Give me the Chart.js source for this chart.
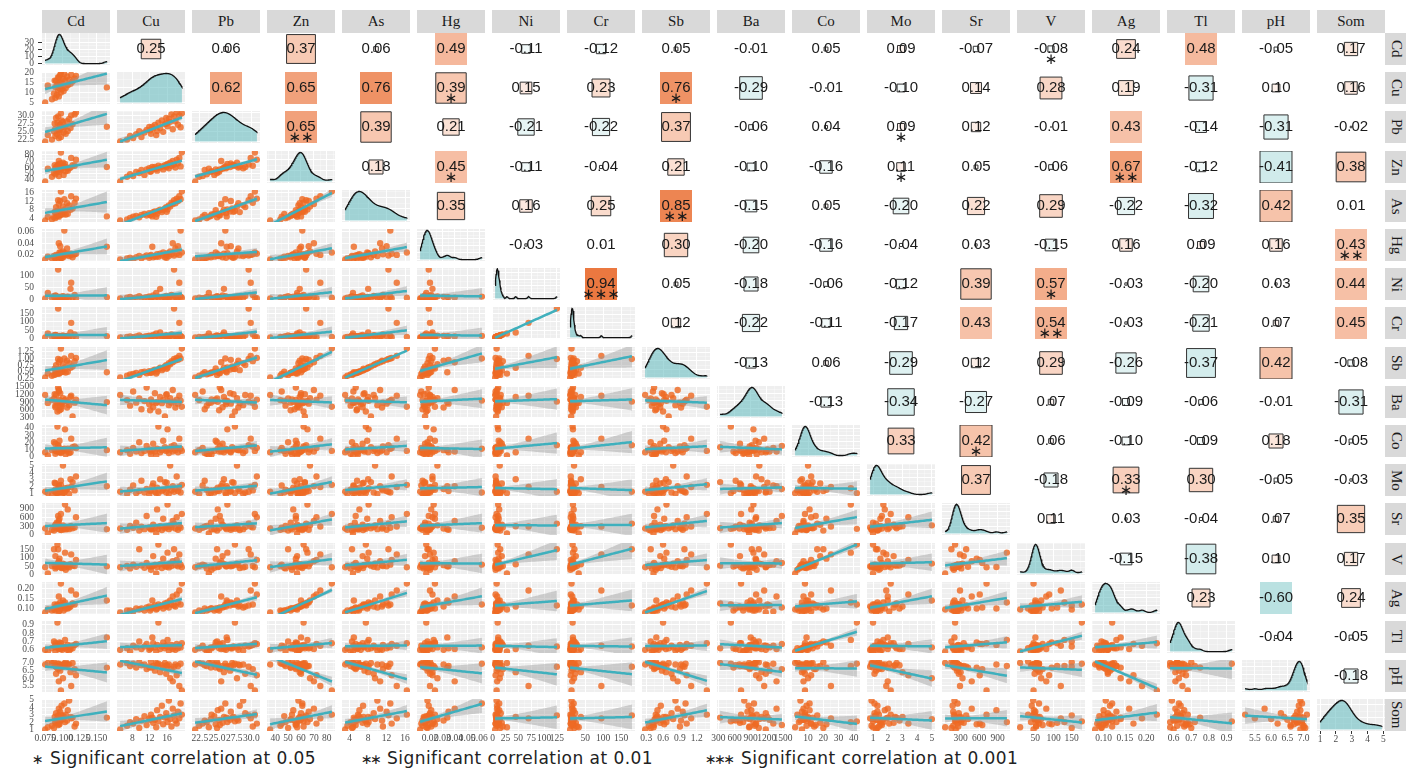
<!DOCTYPE html>
<html lang="en">
<head>
<meta charset="UTF-8">
<title>Correlation matrix of soil elements</title>
<script src="https://cdn.jsdelivr.net/npm/chart.js"></script>
<style>
  body { margin: 0; width: 1406px; height: 768px; overflow: hidden; position: relative; background: #fff; }
  canvas { position: absolute; }
  .strip { position: absolute; background: #d9d9d9; color: #1a1a1a; font: 15px "Liberation Serif", "Times New Roman", serif;
           display: flex; align-items: center; justify-content: center; }
  .strip.side { writing-mode: vertical-rl; }
  .legend { position: absolute; top: 748px; font: 17px "DejaVu Sans", sans-serif; color: #222; white-space: nowrap; line-height: 20px; }
  .legend.txt { letter-spacing: 0.45px; }
  .legend.st { font-size: 14px; letter-spacing: -2.5px; top: 749px; }
</style>
</head>
<body>
<div class="legend st" style="left:32px">∗</div>
<div class="legend txt" style="left:50px">Significant correlation at 0.05</div>
<div class="legend st" style="left:361px">∗∗</div>
<div class="legend txt" style="left:387px">Significant correlation at 0.01</div>
<div class="legend st" style="left:705px">∗∗∗</div>
<div class="legend txt" style="left:741px">Significant correlation at 0.001</div>

<script>
// variables, in panel order
const vars = ['Cd', 'Cu', 'Pb', 'Zn', 'As', 'Hg', 'Ni', 'Cr', 'Sb', 'Ba', 'Co', 'Mo', 'Sr', 'V', 'Ag', 'Tl', 'pH', 'Som'];

// sample values per variable (36 samples, estimated from the scatter panels)
const cd = [0.075, 0.085, 0.090, 0.095, 0.092, 0.088, 0.098, 0.102, 0.094, 0.100, 0.105, 0.090,
            0.097, 0.108, 0.093, 0.112, 0.099, 0.096, 0.115, 0.091, 0.104, 0.110, 0.101, 0.118,
            0.095, 0.094, 0.107, 0.120, 0.097, 0.113, 0.103, 0.098, 0.165, 0.079, 0.089, 0.096];
const cu = [5.2, 6.8, 7.5, 8.2, 8.9, 9.6, 10.1, 10.8, 11.3, 11.9, 12.3, 12.8,
            13.2, 13.7, 14.0, 14.4, 14.8, 15.1, 15.5, 15.8, 16.1, 16.4, 16.7, 17.0,
            17.3, 17.6, 17.9, 18.2, 18.5, 18.8, 19.1, 19.4, 12.6, 13.5, 15.9, 12.1];
const pb = [21.8, 22.4, 23.5, 22.9, 24.1, 25.0, 23.2, 24.6, 25.4, 26.3, 24.2, 25.8,
            26.9, 25.1, 27.6, 26.0, 28.3, 24.8, 27.2, 29.1, 26.5, 28.8, 27.9, 30.2,
            25.6, 29.6, 28.1, 30.8, 27.0, 29.9, 26.2, 30.5, 26.4, 23.8, 27.4, 25.3];
const zn = [36, 44, 48, 45, 52, 50, 55, 47, 56, 58, 53, 57,
            60, 54, 62, 59, 61, 56, 63, 60, 65, 58, 67, 62,
            70, 64, 59, 72, 66, 75, 61, 84, 60, 57, 63, 52];
const as = [3.0, 3.5, 4.2, 4.8, 5.1, 4.5, 5.6, 6.0, 5.3, 6.4, 5.8, 6.8,
            7.2, 6.1, 7.5, 8.0, 6.9, 7.8, 8.6, 9.2, 8.1, 10.0, 9.5, 11.2,
            10.6, 12.4, 11.0, 13.1, 12.0, 14.2, 12.8, 16.4, 4.9, 4.7, 7.0, 5.5];
const hg = [0.012, 0.014, 0.015, 0.013, 0.016, 0.018, 0.014, 0.017, 0.019, 0.015, 0.020, 0.016,
            0.018, 0.021, 0.017, 0.022, 0.019, 0.024, 0.016, 0.020, 0.023, 0.018, 0.026, 0.021,
            0.040, 0.019, 0.031, 0.022, 0.035, 0.020, 0.062, 0.024, 0.034, 0.017, 0.015, 0.018];
const ni = [5, 8, 12, 6, 10, 15, 7, 9, 11, 14, 6, 18,
            8, 13, 10, 45, 9, 12, 7, 16, 11, 8, 14, 20,
            9, 125, 12, 6, 10, 70, 13, 8, 11, 28, 7, 10];
const cr = [8, 12, 15, 10, 14, 20, 11, 13, 16, 19, 9, 24,
            12, 18, 15, 38, 13, 17, 11, 22, 16, 12, 19, 27,
            14, 180, 17, 10, 15, 95, 18, 12, 16, 32, 11, 15];
const sb = [0.28, 0.35, 0.40, 0.42, 0.45, 0.38, 0.48, 0.50, 0.44, 0.52, 0.47, 0.55,
            0.58, 0.50, 0.60, 0.65, 0.56, 0.62, 0.70, 0.75, 0.66, 0.82, 0.78, 0.90,
            0.86, 0.98, 0.92, 1.02, 0.95, 1.10, 1.00, 1.38, 0.48, 0.43, 0.61, 0.46];
const ba = [1180, 980, 760, 1320, 880, 1050, 620, 940, 1480, 820, 1010, 700,
            1250, 910, 530, 1100, 860, 990, 330, 1180, 950, 780, 1060, 880,
            1380, 920, 690, 1000, 840, 1150, 960, 720, 900, 870, 1210, 580];
const co = [6, 9, 4, 12, 7, 20, 5, 8, 15, 10, 3, 18,
            7, 11, 42, 6, 9, 22, 13, 8, 38, 5, 10, 14,
            7, 16, 9, 12, 6, 25, 11, 8, 9, 1.5, 10, 7];
const mo = [1.2, 0.9, 1.5, 2.1, 1.0, 1.3, 2.8, 1.1, 1.6, 0.8, 1.4, 2.4,
            1.2, 1.8, 1.0, 3.0, 1.3, 1.5, 2.6, 1.1, 1.7, 0.9, 5.0, 1.4,
            2.0, 1.2, 1.6, 3.4, 1.3, 1.9, 1.1, 2.2, 2.0, 1.0, 2.5, 1.3];
const sr = [220, 180, 310, 250, 420, 150, 280, 200, 650, 260, 190, 350,
            240, 880, 210, 300, 170, 560, 230, 270, 1050, 200, 330, 260,
            480, 390, 220, 610, 180, 290, 250, 720, 200, 48, 280, 230];
const v  = [45, 52, 38, 60, 48, 150, 55, 42, 70, 50, 30, 110,
            58, 46, 178, 62, 40, 95, 54, 48, 130, 44, 66, 52,
            80, 150, 57, 88, 50, 120, 60, 45, 50, 8, 56, 49];
const ag = [0.080, 0.090, 0.090, 0.085, 0.100, 0.095, 0.100, 0.090, 0.105, 0.110, 0.100, 0.105,
            0.115, 0.100, 0.120, 0.110, 0.115, 0.100, 0.125, 0.110, 0.130, 0.105, 0.140, 0.120,
            0.160, 0.115, 0.110, 0.170, 0.130, 0.190, 0.120, 0.225, 0.140, 0.095, 0.120, 0.090];
const tl = [0.60, 0.62, 0.58, 0.65, 0.63, 0.70, 0.61, 0.64, 0.67, 0.60, 0.62, 0.68,
            0.63, 0.66, 0.93, 0.61, 0.64, 0.69, 0.62, 0.65, 0.72, 0.59, 0.63, 0.66,
            0.61, 0.64, 0.60, 0.67, 0.62, 0.65, 0.63, 0.68, 0.75, 0.58, 0.64, 0.62];
const ph = [6.90, 7.00, 6.80, 6.95, 6.70, 7.05, 6.85, 6.90, 6.60, 6.75, 7.10, 6.80,
            6.50, 6.90, 6.95, 6.40, 6.85, 6.70, 7.00, 6.30, 6.80, 6.90, 6.00, 6.60,
            5.80, 6.75, 6.90, 6.20, 6.80, 5.50, 6.95, 5.20, 6.70, 7.00, 6.85, 6.70];
const som = [1.0, 1.5, 2.0, 1.8, 2.4, 1.2, 2.2, 2.8, 1.6, 2.5, 3.0, 1.9,
             2.3, 3.6, 2.1, 2.7, 4.2, 1.7, 2.6, 3.2, 2.0, 4.9, 2.4, 1.4,
             3.8, 2.9, 2.2, 1.8, 3.4, 2.5, 4.5, 3.0, 2.6, 1.3, 2.7, 2.3];
const samples = [cd, cu, pb, zn, as, hg, ni, cr, sb, ba, co, mo, sr, v, ag, tl, ph, som];

// tick labels: bottom axis per column, left axis per row (row Cd is the density scale)
const xTickLabels = [
  ['0.075', '0.100', '0.125', '0.150'], ['8', '12', '16'], ['22.5', '25.0', '27.5', '30.0'],
  ['40', '50', '60', '70', '80'], ['4', '8', '12', '16'], ['0.02', '0.03', '0.04', '0.05', '0.06'],
  ['0', '25', '50', '75', '100', '125'], ['50', '100', '150'], ['0.3', '0.6', '0.9', '1.2'],
  ['300', '600', '900', '1200', '1500'], ['10', '20', '30', '40'], ['1', '2', '3', '4', '5'],
  ['300', '600', '900'], ['50', '100', '150'], ['0.10', '0.15', '0.20'],
  ['0.6', '0.7', '0.8', '0.9'], ['5.5', '6.0', '6.5', '7.0'], ['1', '2', '3', '4', '5']
];
const yTickLabels = [
  ['0', '10', '20', '30'], ['5', '10', '15', '20'], ['22.5', '25.0', '27.5', '30.0'],
  ['40', '50', '60', '70', '80'], ['4', '8', '12', '16'], ['0.02', '0.04', '0.06'],
  ['0', '50', '100'], ['0', '50', '100', '150'], ['0.25', '0.50', '0.75', '1.00', '1.25'],
  ['300', '600', '900', '1200', '1500'], ['0', '10', '20', '30', '40'], ['1', '2', '3', '4', '5'],
  ['0', '300', '600', '900'], ['0', '50', '100', '150'], ['0.10', '0.15', '0.20'],
  ['0.6', '0.7', '0.8', '0.9'], ['5.5', '6.0', '6.5', '7.0'], ['1', '2', '3', '4', '5']
];

// printed correlations, upper triangle: row i holds columns i+1 .. end
const corrValues = [
  [0.25, 0.06, 0.37, 0.06, 0.49, -0.11, -0.12, 0.05, -0.01, 0.05, 0.09, -0.07, -0.08, 0.24, 0.48, -0.05, 0.17],
  [0.62, 0.65, 0.76, 0.39, 0.15, 0.23, 0.76, -0.29, -0.01, -0.10, 0.14, 0.28, 0.19, -0.31, 0.10, 0.16],
  [0.65, 0.39, 0.21, -0.21, -0.22, 0.37, -0.06, 0.04, 0.09, 0.12, -0.01, 0.43, -0.14, -0.31, -0.02],
  [0.18, 0.45, -0.11, -0.04, 0.21, -0.10, -0.16, 0.11, 0.05, -0.06, 0.67, -0.12, -0.41, 0.38],
  [0.35, 0.16, 0.25, 0.85, -0.15, 0.05, -0.20, 0.22, 0.29, -0.22, -0.32, 0.42, 0.01],
  [-0.03, 0.01, 0.30, -0.20, -0.16, -0.04, 0.03, -0.15, 0.16, 0.09, 0.16, 0.43],
  [0.94, 0.05, -0.18, -0.06, -0.12, 0.39, 0.57, -0.03, -0.20, 0.03, 0.44],
  [0.12, -0.22, -0.11, -0.17, 0.43, 0.54, -0.03, -0.21, 0.07, 0.45],
  [-0.13, 0.06, -0.29, 0.12, 0.29, -0.26, -0.37, 0.42, -0.08],
  [-0.13, -0.34, -0.27, 0.07, -0.09, -0.06, -0.01, -0.31],
  [0.33, 0.42, 0.06, -0.10, -0.09, 0.18, -0.05],
  [0.37, -0.18, 0.33, 0.30, -0.05, -0.03],
  [0.11, 0.03, -0.04, 0.07, 0.35],
  [-0.15, -0.38, 0.10, 0.17],
  [0.23, -0.60, 0.24],
  [-0.04, -0.05],
  [-0.18]
];
// number of significance stars under each printed value
const corrStars = [
  [0, 0, 0, 0, 0, 0, 0, 0, 0, 0, 0, 0, 1, 0, 0, 0, 0],
  [0, 0, 0, 1, 0, 0, 1, 0, 0, 0, 0, 0, 0, 0, 0, 0],
  [2, 0, 0, 0, 0, 0, 0, 0, 1, 0, 0, 0, 0, 0, 0],
  [0, 1, 0, 0, 0, 0, 0, 1, 0, 0, 2, 0, 0, 0],
  [0, 0, 0, 2, 0, 0, 0, 0, 0, 0, 0, 0, 0],
  [0, 0, 0, 0, 0, 0, 0, 0, 0, 0, 0, 2],
  [3, 0, 0, 0, 0, 0, 1, 0, 0, 0, 0],
  [0, 0, 0, 0, 0, 2, 0, 0, 0, 0],
  [0, 0, 0, 0, 0, 0, 0, 0, 0],
  [0, 0, 0, 0, 0, 0, 0, 0],
  [0, 1, 0, 0, 0, 0, 0],
  [0, 0, 1, 0, 0, 0],
  [0, 0, 0, 0, 0],
  [0, 0, 0, 0],
  [0, 0, 0],
  [0, 0],
  [0]
];

// ---- layout ----
const N = vars.length;
const COL0 = 42, COLSTEP = 75, PW = 68;
const ROW0 = 33, ROWSTEP = 39.2, PH = 32;
const AXW = 42, AXH = 16;
const PANEL_BG = '#efefef';

Chart.defaults.font.family = '"Liberation Serif", "Times New Roman", serif';

function panelPos(i, j) {
  return { left: Math.round(COL0 + j * COLSTEP), top: Math.round(ROW0 + i * ROWSTEP) };
}

function addCanvas(l, t, w, h) {
  const c = document.createElement('canvas');
  c.width = w; c.height = h;
  c.style.left = l + 'px'; c.style.top = t + 'px';
  c.style.width = w + 'px'; c.style.height = h + 'px';
  document.body.appendChild(c);
  return c;
}

function addStrip(text, l, t, w, h, side) {
  const d = document.createElement('div');
  d.className = 'strip' + (side ? ' side' : '');
  d.style.cssText += `left:${l}px;top:${t}px;width:${w}px;height:${h}px`;
  d.textContent = text;
  document.body.appendChild(d);
}

// ---- stats helpers ----
function dataRange(a) {
  const mn = Math.min(...a), mx = Math.max(...a), pad = (mx - mn) * 0.05;
  return [mn - pad, mx + pad];
}

function kde(a, n) {
  const N0 = a.length;
  const mean = a.reduce((s, x) => s + x, 0) / N0;
  const sd = Math.sqrt(a.reduce((s, x) => s + (x - mean) ** 2, 0) / (N0 - 1));
  const s = [...a].sort((p, q) => p - q);
  const q = p => { const h = (N0 - 1) * p, l = Math.floor(h); return s[l] + (h - l) * (s[Math.min(l + 1, N0 - 1)] - s[l]); };
  const bw = 0.9 * Math.min(sd, (q(0.75) - q(0.25)) / 1.34) * Math.pow(N0, -0.2);
  const lo = s[0], hi = s[N0 - 1], out = [];
  for (let k = 0; k < n; k++) {
    const x = lo + (hi - lo) * k / (n - 1);
    let d = 0;
    for (const val of a) { const z = (x - val) / bw; d += Math.exp(-0.5 * z * z); }
    out.push({ x, y: d / (N0 * bw * Math.sqrt(2 * Math.PI)) });
  }
  return out;
}

// least squares line with 95% confidence band
function lmFit(xs, ys) {
  const n = xs.length;
  const mx = xs.reduce((s, x) => s + x, 0) / n, my = ys.reduce((s, y) => s + y, 0) / n;
  let sxx = 0, sxy = 0;
  xs.forEach((x, k) => { sxx += (x - mx) ** 2; sxy += (x - mx) * (ys[k] - my); });
  const b = sxy / sxx, a = my - b * mx;
  let sse = 0;
  xs.forEach((x, k) => { sse += (ys[k] - a - b * x) ** 2; });
  const s = Math.sqrt(sse / (n - 2)), t = 2.032;
  const lo = Math.min(...xs), hi = Math.max(...xs);
  const line = [], up = [], dn = [];
  for (let k = 0; k < 40; k++) {
    const x = lo + (hi - lo) * k / 39, y = a + b * x;
    const se = s * Math.sqrt(1 / n + (x - mx) ** 2 / sxx);
    line.push({ x, y }); up.push({ x, y: y + t * se }); dn.push({ x, y: y - t * se });
  }
  return { line, up, dn };
}

function niceLabels(max) {
  const raw = max / 3, p = Math.pow(10, Math.floor(Math.log10(raw))), m = raw / p;
  const step = (m < 1.5 ? 1 : m < 3 ? 2 : m < 7 ? 5 : 10) * p;
  const out = [];
  for (let x = 0; x <= max * 1.05; x += step) out.push(String(+x.toFixed(6)));
  return out;
}

// major ticks from the labels plus ggplot-style minor lines halfway between
function gridTicks(labels, lo, hi) {
  const major = labels.map(Number), step = major[1] - major[0];
  const all = major.map((val, k) => ({ value: val, isMajor: true, lab: labels[k] }));
  for (let k = -1; k < major.length; k++) all.push({ value: major[0] + (k + 0.5) * step, isMajor: false, lab: '' });
  const eps = (hi - lo) * 1e-6;
  return all.filter(t => t.value >= lo - eps && t.value <= hi + eps).sort((p, q) => p.value - q.value);
}

function axis(pos, lo, hi, ticks, show, marks) {
  const horiz = pos === 'bottom';
  return {
    type: 'linear', position: pos, min: lo, max: hi, bounds: 'data',
    afterBuildTicks: s => { s.ticks = ticks.map(t => ({ value: t.value, isMajor: t.isMajor, lab: t.lab })); },
    afterFit: s => {
      if (horiz) s.height = show ? AXH : 0; else s.width = show ? AXW : 0;
      s.paddingLeft = 0; s.paddingRight = 0; s.paddingTop = 0; s.paddingBottom = 0;
    },
    border: { display: false },
    grid: {
      color: c => (c.tick && c.tick.isMajor) ? '#ffffff' : 'rgba(255,255,255,0.7)',
      lineWidth: c => (c.tick && c.tick.isMajor) ? 1 : 0.5,
      drawTicks: show && marks,
      tickLength: horiz ? 3 : 4,
      tickColor: c => (c.tick && c.tick.isMajor) ? '#333333' : 'rgba(0,0,0,0)',
      tickWidth: 1
    },
    ticks: {
      display: show, autoSkip: false, maxRotation: 0, minRotation: 0,
      padding: marks ? (horiz ? 0 : 4) : (horiz ? 2 : 8),
      color: '#4d4d4d', font: { size: 9.5 },
      callback: (val, k, arr) => arr[k].isMajor ? arr[k].lab : ''
    }
  };
}

const panelBg = {
  id: 'panelBg',
  beforeDraw(chart, args, o) {
    const { ctx, chartArea: a } = chart;
    ctx.save();
    ctx.fillStyle = o.color;
    ctx.fillRect(a.left, a.top, a.right - a.left, a.bottom - a.top);
    ctx.restore();
  }
};

const corrLabel = {
  id: 'corrLabel',
  afterDatasetsDraw(chart, args, o) {
    const { ctx, chartArea: a } = chart;
    const cx = (a.left + a.right) / 2, cy = (a.top + a.bottom) / 2;
    ctx.save();
    ctx.fillStyle = '#1a1a1a';
    ctx.textAlign = 'center';
    ctx.textBaseline = 'middle';
    ctx.font = '15px "Liberation Sans", Arial, sans-serif';
    ctx.fillText(o.text, cx, cy);
    if (o.stars) {
      ctx.font = '15px "DejaVu Sans", sans-serif';
      ctx.fillText('∗'.repeat(o.stars), cx, cy + 11);
    }
    ctx.restore();
  }
};

function baseOptions(pad, scales, extra) {
  return {
    responsive: false, animation: false, devicePixelRatio: 1, events: [],
    layout: { padding: pad, autoPadding: false },
    scales,
    plugins: Object.assign({ legend: { display: false }, tooltip: { enabled: false } }, extra)
  };
}

// ---- lower triangle and diagonal ----
function lowerPanel(i, j) {
  const { left, top } = panelPos(i, j);
  const hasY = j === 0, hasX = i === N - 1;
  const pad = { left: hasX && !hasY ? 12 : 0, right: hasX ? 12 : 0, top: hasY ? 6 : 0, bottom: hasX ? 2 : (hasY ? 6 : 0) };
  const cw = pad.left + (hasY ? AXW : 0) + PW + pad.right;
  const ch = pad.top + PH + (hasX ? AXH : 0) + pad.bottom;
  const canvas = addCanvas(left - (hasY ? AXW : 0) - pad.left, top - pad.top, cw, ch);

  const [xlo, xhi] = dataRange(samples[j]);
  const xTicks = gridTicks(xTickLabels[j], xlo, xhi);
  let datasets, ylo, yhi, yTicks;

  if (i === j) {
    const dens = kde(samples[i], 128);
    const maxD = Math.max(...dens.map(p => p.y));
    ylo = -0.05 * maxD; yhi = 1.05 * maxD;
    yTicks = gridTicks(i === 0 ? yTickLabels[0] : niceLabels(maxD), ylo, yhi);
    datasets = [{
      type: 'line', data: dens, fill: 'origin', backgroundColor: 'rgba(95,185,190,0.55)',
      borderColor: '#111', borderWidth: 1.3, pointRadius: 0, tension: 0, clip: 0
    }];
  } else {
    [ylo, yhi] = dataRange(samples[i]);
    yTicks = gridTicks(yTickLabels[i], ylo, yhi);
    const pts = samples[j].map((x, k) => ({ x, y: samples[i][k] }));
    const f = lmFit(samples[j], samples[i]);
    datasets = [
      { type: 'line', data: f.line, borderColor: '#3fb0bd', borderWidth: 2.5, pointRadius: 0, order: 0, clip: 0 },
      { type: 'line', data: f.up, borderColor: 'rgba(0,0,0,0)', borderWidth: 0, pointRadius: 0, fill: false, order: 1, clip: 0 },
      { type: 'line', data: f.dn, borderColor: 'rgba(0,0,0,0)', borderWidth: 0, pointRadius: 0, fill: '-1',
        backgroundColor: 'rgba(150,150,150,0.42)', order: 1, clip: 0 },
      { type: 'scatter', data: pts, backgroundColor: 'rgba(238,106,36,0.82)', borderWidth: 0, pointRadius: 3.2, order: 2, clip: 0 }
    ];
  }

  const marks = i === j;
  new Chart(canvas, {
    type: 'scatter',
    data: { datasets },
    options: baseOptions(pad, {
      x: axis('bottom', xlo, xhi, xTicks, hasX, marks),
      y: axis('left', ylo, yhi, yTicks, hasY, marks)
    }, { panelBg: { color: PANEL_BG } }),
    plugins: [panelBg]
  });
}

// ---- upper triangle: correlation squares ----
function fillFor(r) {
  const t = Math.min(Math.abs(r), 1);
  const end = r >= 0 ? [234, 111, 52] : [140, 205, 205];
  return 'rgb(' + end.map(c => Math.round(255 + (c - 255) * t)).join(',') + ')';
}

function upperPanel(i, j) {
  const { left, top } = panelPos(i, j);
  const r = corrValues[i][j - i - 1], stars = corrStars[i][j - i - 1];
  const side = Math.min(Math.abs(r) * 78, PH);
  // a few extra pixels below so the stars are not cut, squares still clip to the panel
  const canvas = addCanvas(left, top, PW, PH + 6);
  new Chart(canvas, {
    type: 'scatter',
    data: {
      datasets: [{
        data: [{ x: 0, y: 0 }], pointStyle: 'rect', pointRadius: side / Math.SQRT2,
        backgroundColor: fillFor(r), borderColor: '#333',
        borderWidth: Math.abs(r) <= 0.42 ? 1 : 0, clip: 0
      }]
    },
    options: baseOptions({ bottom: 6 }, {
      x: { display: false, min: -1, max: 1 },
      y: { display: false, min: -1, max: 1 }
    }, { corrLabel: { text: r.toFixed(2), stars } }),
    plugins: [corrLabel]
  });
}

for (let i = 0; i < N; i++) {
  for (let j = 0; j < N; j++) {
    if (j <= i) lowerPanel(i, j); else upperPanel(i, j);
  }
}

// facet strips
vars.forEach((name, k) => {
  const c = panelPos(0, k), r = panelPos(k, 0);
  addStrip(name, c.left, 10, PW, 23, false);
  addStrip(name, COL0 + (N - 1) * COLSTEP + PW, r.top, 22, PH, true);
});
</script>
</body>
</html>
